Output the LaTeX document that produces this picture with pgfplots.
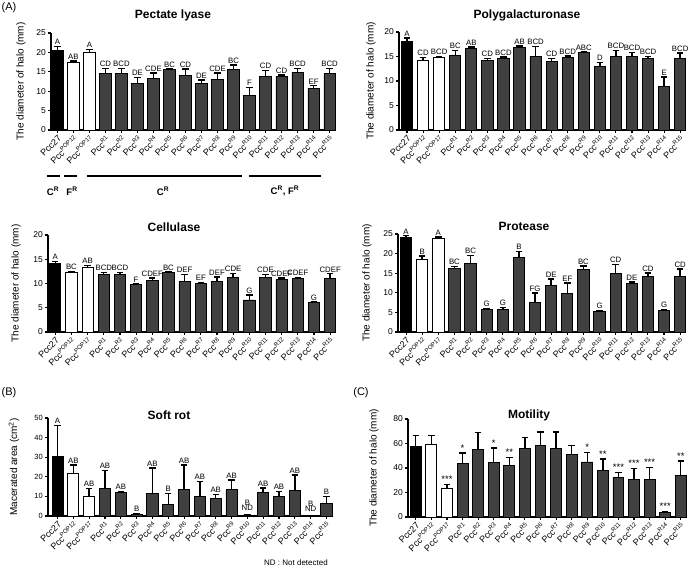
\documentclass[border=0pt]{standalone}
\usepackage{pgfplots}
\pgfplotsset{compat=1.18}
\usepackage{pgfplotstable}
\usepackage{fontspec}
\setmainfont{Liberation Sans}
\definecolor{barg}{RGB}{64,64,64}
\protected\def\nd{\begin{tabular}{@{}c@{}}B\\[-3pt]ND\end{tabular}}

\pgfplotstableread{
x y e lab
0 20.5 1.0 A
1 17.5 0.3 AB
2 20.1 0.7 A
3 14.5 1.4 CD
4 14.6 1.2 BCD
5 12.1 1.4 DE
6 13.3 1.4 CDE
7 15.5 0.2 BC
8 14.1 1.6 CD
9 12.1 0.8 DE
10 13.1 1.6 CDE
11 15.7 1.0 BC
12 8.9 2.0 F
13 13.8 1.5 CD
14 13.8 0.4 CD
15 14.9 1.0 BCD
16 10.8 0.6 EF
17 14.5 1.4 BCD
}\pectate

\pgfplotstableread{
x y e lab
0 18.1 0.7 A
1 14.2 0.6 CD
2 14.8 0.25 BCD
3 15.25 1.0 BC
4 16.7 0.2 AB
5 14.1 0.5 CD
6 14.7 0.2 BCD
7 16.75 0.4 AB
8 15.05 2.0 BCD
9 14.0 0.6 CD
10 14.8 0.3 BCD
11 15.8 0.15 ABC
12 12.9 0.9 D
13 15.05 1.2 BCD
14 15.05 0.75 BCD
15 14.5 0.55 BCD
16 8.8 2.0 E
17 14.65 1.1 BCD
}\polyg

\pgfplotstableread{
x y e lab
0 14.05 0.45 A
1 12.25 0.2 BC
2 13.3 0.4 AB
3 11.9 0.35 BCD
4 11.9 0.35 BCD
5 9.75 0.15 F
6 10.6 0.55 CDEF
7 12.2 0.15 BC
8 10.5 1.4 DEF
9 10.05 0.2 EF
10 10.4 0.9 DEF
11 11.2 0.9 CDE
12 6.6 1.0 G
13 11.2 0.7 CDE
14 10.85 0.3 CDEF
15 11.05 0.15 CDEF
16 6.0 0.2 G
17 11.0 1.0 CDEF
}\cellu

\pgfplotstableread{
x y e lab
0 24.2 0.35 A
1 18.4 1.0 B
2 23.9 0.3 A
3 16.2 0.5 BC
4 17.4 2.1 BC
5 5.8 0.25 G
6 5.8 0.5 G
7 19.1 1.4 B
8 7.6 2.3 FG
9 11.8 1.7 DE
10 9.9 2.6 EF
11 15.95 0.85 BC
12 5.35 0.15 G
13 14.9 2.3 CD
14 12.3 0.5 DE
15 14.2 0.9 CD
16 5.6 0.15 G
17 14.05 2.05 CD
}\protea

\pgfplotstableread{
x y e lab
0 30.4 15.8 A
1 21.5 4.6 AB
2 9.9 4.1 AB
3 13.8 9.4 AB
4 11.9 0.6 AB
5 1.0 0.3 B
6 11.6 12.8 AB
7 6.1 5.5 B
8 13.65 12.3 AB
9 10.1 7.5 AB
10 9.05 2.0 AB
11 13.5 4.9 AB
12 0.35 0.15 \nd
13 11.95 2.4 AB
14 9.9 2.6 AB
15 13.1 7.9 AB
16 0 0 \nd
17 6.5 3.4 B
}\softrot

\pgfplotstableread{
x y e lab
0 57.5 8.8 {}
1 59.5 7.1 {}
2 23.6 3.0 ***
3 43.8 8.3 *
4 55.3 13.7 {}
5 44.7 11.5 *
6 41.9 6.9 **
7 55.9 9.0 {}
8 58.4 10.9 {}
9 56.2 13.1 {}
10 51.2 7.2 {}
11 44.9 7.7 *
12 37.8 9.6 **
13 32.1 4.3 ***
14 30.7 9.0 ***
15 30.7 9.8 ***
16 3.6 0.8 ***
17 33.7 12.1 **
}\motil

\pgfplotsset{
  gp/.style={
    scale only axis,
    axis x line*=bottom, axis y line*=left,
    axis line style={line width=1.3pt, black},
    every tick/.style={line width=1.1pt, black},
    major tick length=3pt,
    tick align=outside,
    ymin=0,
    xtick={0,...,17},
    xticklabels={Pcc27,Pcc\textsuperscript{POP12},Pcc\textsuperscript{POP17},Pcc\textsuperscript{R1},Pcc\textsuperscript{R2},Pcc\textsuperscript{R3},Pcc\textsuperscript{R4},Pcc\textsuperscript{R5},Pcc\textsuperscript{R6},Pcc\textsuperscript{R7},Pcc\textsuperscript{R8},Pcc\textsuperscript{R9},Pcc\textsuperscript{R10},Pcc\textsuperscript{R11},Pcc\textsuperscript{R12},Pcc\textsuperscript{R13},Pcc\textsuperscript{R14},Pcc\textsuperscript{R15}},
    x tick label style={rotate=45, anchor=north east, font=\fontsize{9}{9}\selectfont, inner sep=1pt},
    y tick label style={font=\fontsize{8.5}{9}\selectfont, inner sep=2pt},
    label style={font=\fontsize{8.5}{10}\selectfont},
    ylab/.style={every axis y label/.style={at={(axis description cs:0,0.5)}, xshift=##1, rotate=90, anchor=center}},
    ylab=-31pt,
    /pgf/number format/assume math mode=true,
    enlargelimits=false, clip=false,
    bar width=0.7,
  },
  bars/.style={ybar, bar shift=0pt, draw=black, line width=0.9pt,
    error bars/y dir=plus, error bars/y explicit,
    error bars/error mark=-,
    error bars/error bar style={line width=1.4pt, black},
    error bars/error mark options={rotate=90, line width=1.4pt, mark size=3.2pt, black}},
  labs/.style={only marks, mark=*, mark size=0pt, mark options={draw=none, fill=none},
    nodes near coords, point meta=explicit symbolic,
    every node near coord/.append style={font=\fontsize{7.8}{8}\selectfont, anchor=south, inner sep=1.5pt, black, align=center}},
}

\newcommand{\threebars}[1]{%
  \addplot[bars, fill=black, restrict x to domain=-0.5:0.5] table[x=x,y=y,y error=e] {#1};
  \addplot[bars, fill=white, restrict x to domain=0.5:2.5] table[x=x,y=y,y error=e] {#1};
  \addplot[bars, fill=barg, restrict x to domain=2.5:17.5] table[x=x,y=y,y error=e] {#1};
  \addplot[labs] table[x=x, y expr=\thisrow{y}+\thisrow{e}, meta=lab] {#1};
}

\begin{document}
\begin{tikzpicture}
\useasboundingbox (0,0) rectangle (696pt,569pt);

% Pectate lyase
\begin{axis}[gp, at={(51pt,439pt)}, anchor=south west, width=285pt, height=97pt,
  xmin=-0.4, xmax=17.4, ymax=25, ytick={0,5,...,25}, ylabel={The diameter of halo (mm)}, ylab=-30pt]
\threebars{\pectate}
\end{axis}

% Polygalacturonase
\begin{axis}[gp, at={(399pt,439pt)}, anchor=south west, width=286pt, height=98pt,
  xmin=-0.5, xmax=17.3, ymax=20, ytick={0,5,...,20}, ylabel={The diameter of halo (mm)}, ylab=-28pt]
\threebars{\polyg}
\end{axis}

% Cellulase
\begin{axis}[gp, at={(48pt,237pt)}, anchor=south west, width=287pt, height=97pt,
  xmin=-0.45, xmax=17.3, ymax=20, ytick={0,5,...,20}, ylabel={The diameter of halo (mm)}, ylab=-32pt]
\threebars{\cellu}
\end{axis}

% Protease
\begin{axis}[gp, at={(398pt,237pt)}, anchor=south west, width=287pt, height=98pt,
  xmin=-0.5, xmax=17.3, ymax=25, ytick={0,5,...,25}, ylabel={The diameter of halo (mm)}, ylab=-31pt]
\threebars{\protea}
\end{axis}

% Soft rot
\begin{axis}[gp, at={(48pt,53pt)}, anchor=south west, width=284pt, height=98pt,
  xmin=-0.6, xmax=17.35, ymax=50, ytick={0,10,...,50},
  y tick label style={font=\fontsize{7.5}{8}\selectfont},
  ylab=-34pt,
  ylabel={Macerated area (cm\textsuperscript{2})}]
\threebars{\softrot}
\end{axis}

% Motility
\begin{axis}[gp, at={(408pt,52pt)}, anchor=south west, width=279pt, height=98pt,
  xmin=-0.5, xmax=17.4, ymax=80, ytick={0,20,...,80}, ylabel={The diameter of halo (mm)},
  ylab=-34pt,
  labs/.append style={every node near coord/.append style={font=\fontsize{9.5}{9}\selectfont}}]
\threebars{\motil}
\end{axis}

% titles
\begin{scope}[every node/.style={font=\bfseries\fontsize{12}{14}\selectfont}]
\node at (173pt,554pt) {Pectate lyase};
\node at (527pt,554pt) {Polygalacturonase};
\node at (174pt,342pt) {Cellulase};
\node at (524pt,343pt) {Protease};
\node at (169pt,154pt) {Soft rot};
\node at (529pt,154pt) {Motility};
\end{scope}

% panel labels
\begin{scope}[every node/.style={font=\fontsize{11}{12}\selectfont}]
\node at (9pt,561pt) {(A)};
\node at (9pt,176pt) {(B)};
\node at (361pt,176pt) {(C)};
\end{scope}

% groups
\begin{scope}[line width=1.5pt]
\draw (47pt,393pt) -- (60pt,393pt);
\draw (64pt,393pt) -- (77pt,393pt);
\draw (87pt,393pt) -- (242pt,393pt);
\draw (249pt,393pt) -- (321pt,393pt);
\end{scope}
\begin{scope}[every node/.style={font=\bfseries\fontsize{9.5}{11}\selectfont}]
\node at (53pt,378pt) {C\textsuperscript{R}};
\node at (72pt,378pt) {F\textsuperscript{R}};
\node at (163pt,378pt) {C\textsuperscript{R}};
\node at (285pt,378pt) {C\textsuperscript{R}, F\textsuperscript{R}};
\end{scope}

\node[font=\fontsize{8}{9}\selectfont] at (296pt,6pt) {ND : Not detected};
\end{tikzpicture}
\end{document}
